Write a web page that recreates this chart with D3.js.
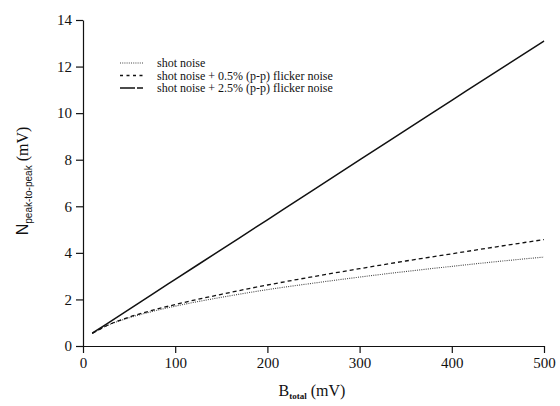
<!DOCTYPE html>
<html lang="en">
<head>
  <meta charset="UTF-8" />
  <title>Noise vs B_total</title>
  <style>
    body { margin: 0; background: #fff; }
    svg { display: block; }
    .axis path, .axis line { stroke: #111; stroke-width: 1.2; }
  </style>
</head>
<body>
  <svg id="chart" width="560" height="406"></svg>

  <script src="https://d3js.org/d3.v7.min.js"></script>
  <script>
    // values
    const bTotal = [10, 25, 50, 75, 100, 150, 200, 250, 300, 350, 400, 450, 500];
    const shotNoise = [0.54, 0.86, 1.21, 1.48, 1.71, 2.09, 2.42, 2.70, 2.96, 3.20, 3.42, 3.63, 3.82];
    const flicker05 = [0.54, 0.86, 1.24, 1.53, 1.78, 2.22, 2.62, 2.98, 3.32, 3.65, 3.96, 4.27, 4.57];
    const flicker25 = [0.55, 0.93, 1.57, 2.22, 2.86, 4.14, 5.42, 6.70, 7.99, 9.27, 10.55, 11.83, 13.10];

    const xTicks = [0, 100, 200, 300, 400, 500];
    const yTicks = [0, 2, 4, 6, 8, 10, 12, 14];

    const seriesNames = [
      "shot noise",
      "shot noise + 0.5% (p-p) flicker noise",
      "shot noise + 2.5% (p-p) flicker noise"
    ];

    const series = [
      { name: seriesNames[0], values: shotNoise, stroke: "#444", width: 1.1, dash: "1,1.2" },
      { name: seriesNames[1], values: flicker05, stroke: "#111", width: 1.3, dash: "4,3" },
      { name: seriesNames[2], values: flicker25, stroke: "#111", width: 1.5, dash: null }
    ];

    const serif = "Liberation Serif, DejaVu Serif, serif";
    const svg = d3.select("#chart");

    const x = d3.scaleLinear().domain([0, 500]).range([83, 544]);
    const y = d3.scaleLinear().domain([0, 14]).range([346, 20]);

    svg.append("g")
      .attr("class", "axis")
      .attr("transform", "translate(0,346)")
      .call(d3.axisBottom(x).tickValues(xTicks).tickSize(7).tickSizeOuter(0).tickPadding(4))
      .attr("font-family", serif)
      .attr("font-size", 15)
      .selectAll("text").attr("fill", "#111");

    svg.append("g")
      .attr("class", "axis")
      .attr("transform", "translate(83,0)")
      .call(d3.axisLeft(y).tickValues(yTicks).tickSize(7).tickSizeOuter(0).tickPadding(4))
      .attr("font-family", serif)
      .attr("font-size", 15)
      .selectAll("text").attr("fill", "#111");

    const line = d3.line()
      .x((d, i) => x(bTotal[i]))
      .y(d => y(d))
      .curve(d3.curveMonotoneX);

    series.forEach(s => {
      svg.append("path")
        .datum(s.values)
        .attr("fill", "none")
        .attr("stroke", s.stroke)
        .attr("stroke-width", s.width)
        .attr("stroke-dasharray", s.dash)
        .attr("d", line);
    });

    // legend
    const legend = svg.append("g")
      .attr("font-family", serif)
      .attr("font-size", 12);
    series.forEach((s, i) => {
      const ly = 63 + i * 12.5;
      legend.append("line")
        .attr("x1", 120).attr("x2", 143)
        .attr("y1", ly).attr("y2", ly)
        .attr("stroke", s.stroke)
        .attr("stroke-width", s.width)
        .attr("stroke-dasharray", i === 1 ? "3,3.5" : (i === 2 ? "15,2,6" : s.dash));
      legend.append("text")
        .attr("x", 157).attr("y", ly + 4)
        .attr("fill", "#111")
        .text(s.name);
    });

    // x label
    const xl = svg.append("text")
      .attr("x", 312).attr("y", 396)
      .attr("text-anchor", "middle")
      .attr("font-family", serif)
      .attr("font-size", 16)
      .attr("fill", "#111");
    xl.append("tspan").text("B");
    xl.append("tspan").attr("font-size", 9).attr("font-weight", "bold").attr("dy", 3).text("total");
    xl.append("tspan").attr("dy", -3).text(" (mV)");

    // y label
    const yl = svg.append("text")
      .attr("transform", "translate(28,181) rotate(-90)")
      .attr("text-anchor", "middle")
      .attr("font-size", 16)
      .attr("fill", "#111");
    yl.append("tspan").attr("font-family", "Liberation Sans, sans-serif").text("N");
    yl.append("tspan").attr("font-family", "Liberation Sans, sans-serif").attr("font-size", 10).attr("dy", 4).text("peak-to-peak");
    yl.append("tspan").attr("font-family", serif).attr("dy", -4).text(" (mV)");
  </script>
</body>
</html>
